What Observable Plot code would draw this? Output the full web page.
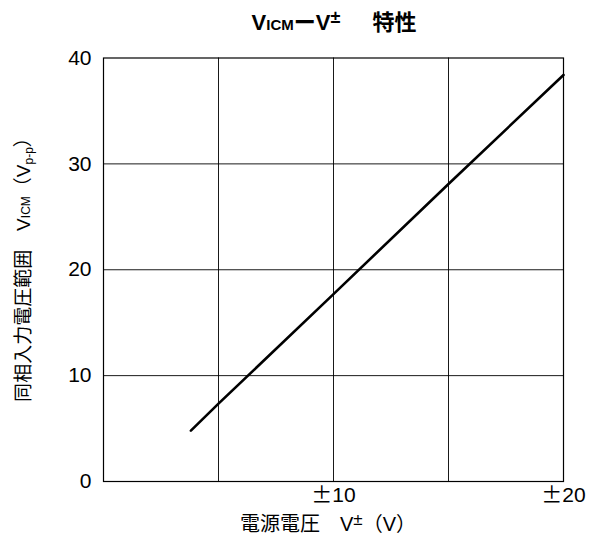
<!DOCTYPE html>
<html><head><meta charset="utf-8">
<script src="https://cdn.jsdelivr.net/npm/d3@7"></script>
<script src="https://cdn.jsdelivr.net/npm/@observablehq/plot@0.6"></script>
<style>
body{margin:0;background:#fff}
svg{font-family:"Liberation Sans","Noto Sans CJK JP",sans-serif}
</style>
</head><body><div id="chart"></div>
<script>
// Supply voltage ±V (V) vs common-mode input voltage range VICM (Vp-p)
const supplyV = [3.8, 5, 10, 15, 20];
const vicm = [4.8, 7.35, 17.7, 28.1, 38.4];
const xTicks = [10, 20];
const yTicks = [0, 10, 20, 30, 40];
const xGrid = [5, 10, 15];
const yGrid = [10, 20, 30];

const data = supplyV.map((x, i) => ({x, y: vicm[i]}));
const FONT = '"Liberation Sans","Noto Sans CJK JP",sans-serif';
const CJK = '"Noto Sans CJK JP"';

const chart = Plot.plot({
  width: 594, height: 547,
  marginTop: 57.5, marginBottom: 66, marginLeft: 103, marginRight: 31,
  style: {fontSize: "21px", fontFamily: FONT, color: "#000", background: "#fff", overflow: "visible"},
  x: {domain: [0, 20]},
  y: {domain: [0, 40]},
  marks: [
    Plot.ruleX(xGrid, {stroke: "#000", strokeWidth: 1, strokeOpacity: 0.9}),
    Plot.ruleY(yGrid, {stroke: "#000", strokeWidth: 1, strokeOpacity: 0.9}),
    Plot.frame({stroke: "#000", strokeWidth: 1.2}),
    Plot.line(data, {x: "x", y: "y", stroke: "#000", strokeWidth: 2.6}),
    Plot.axisX(xTicks, {tickSize: 0, tickPadding: 6, tickFormat: d => "±" + d, label: null, fill: "#000"}),
    Plot.axisY(yTicks, {tickSize: 0, tickPadding: 12, label: null, fill: "#000"})
  ]
});
document.getElementById("chart").append(chart);

const svg = d3.select(chart);

// full-width style ± in x tick labels
svg.selectAll('[aria-label="x-axis tick label"] text').each(function() {
  const t = d3.select(this);
  const s = t.text();
  t.text(null);
  t.append("tspan").attr("font-family", CJK).style("font-feature-settings", '"fwid"').text("±");
  t.append("tspan").text(s.replace("±", ""));
});

// Title
const title = svg.append("text")
  .attr("x", 334).attr("y", 30)
  .attr("text-anchor", "middle")
  .attr("font-weight", "bold")
  .attr("font-size", 22)
  .attr("fill", "#000");
title.append("tspan").text("V");
title.append("tspan").attr("font-size", 15).text("ICM");
title.append("tspan").attr("font-family", CJK).text("ー");
title.append("tspan").text("V");
title.append("tspan").attr("font-size", 18).attr("dy", -7).text("±");
title.append("tspan").attr("dy", 7).attr("dx", 10).attr("font-family", CJK).text("　特性");

// X label
const xl = svg.append("text")
  .attr("x", 328).attr("y", 531)
  .attr("text-anchor", "middle")
  .attr("font-size", 20)
  .attr("fill", "#000");
xl.append("tspan").attr("font-family", CJK).text("電源電圧　");
xl.append("tspan").text("V");
xl.append("tspan").attr("font-size", 17).attr("dy", -6).text("±");
xl.append("tspan").attr("dy", 6).attr("font-family", CJK).text("（");
xl.append("tspan").text("V");
xl.append("tspan").attr("font-family", CJK).text("）");

// Y label
const yl = svg.append("text")
  .attr("transform", "translate(30,265) rotate(-90)")
  .attr("text-anchor", "middle")
  .attr("font-size", 19)
  .attr("fill", "#000");
yl.append("tspan").attr("font-family", CJK).text("同相入力電圧範囲　");
yl.append("tspan").text("V");
yl.append("tspan").attr("font-size", 12).text("ICM");
yl.append("tspan").attr("font-family", CJK).text("（");
yl.append("tspan").text("V");
yl.append("tspan").attr("font-size", 12).attr("dy", 3).text("p-p");
yl.append("tspan").attr("dy", -3).attr("font-family", CJK).text("）");
</script>
</body></html>
